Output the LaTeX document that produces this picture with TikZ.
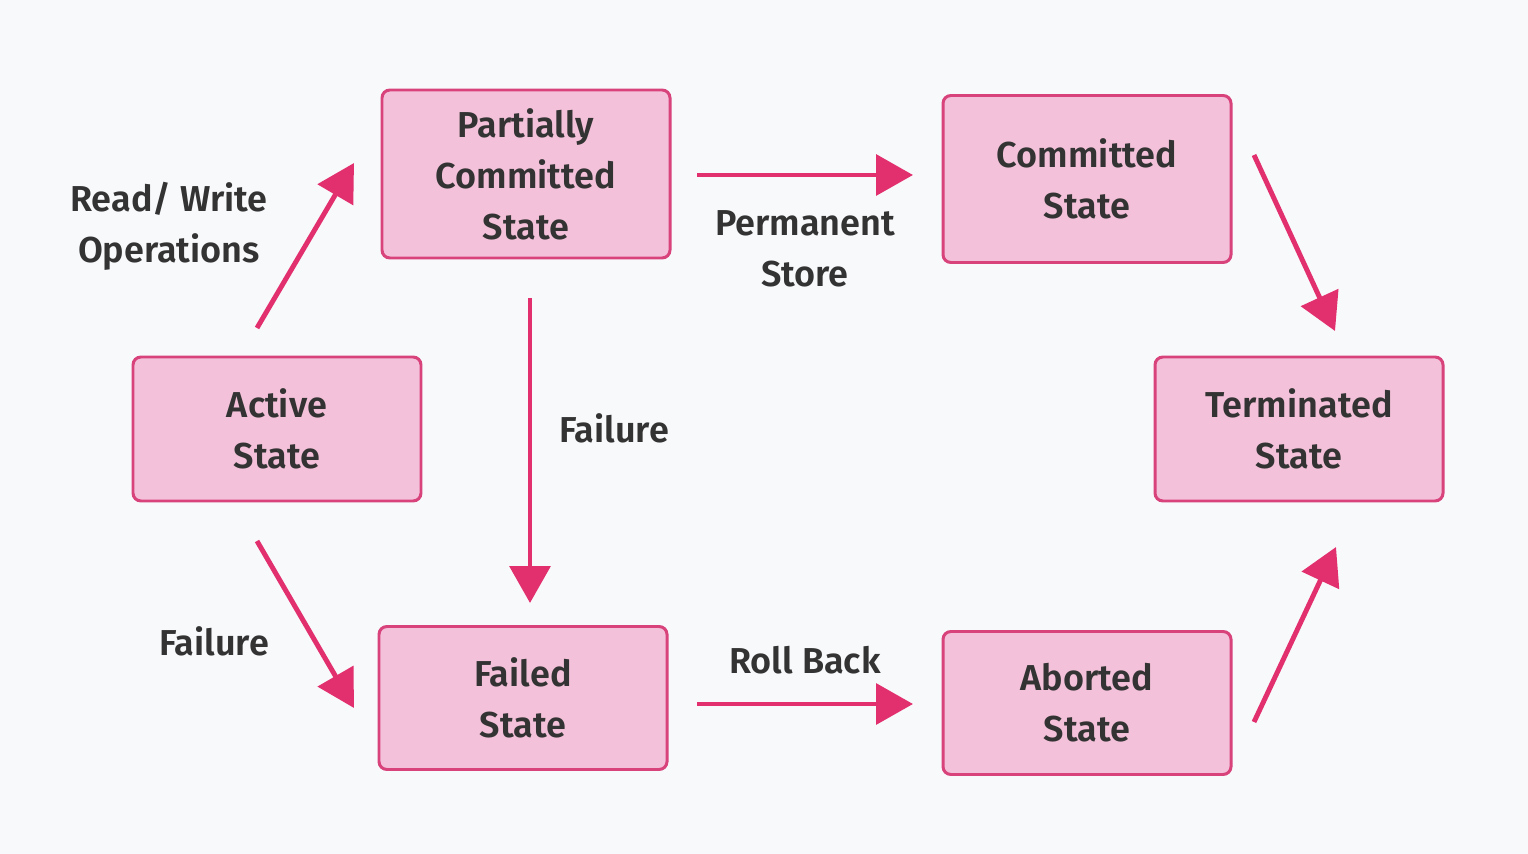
\documentclass[tikz,border=0pt]{standalone}
\usepackage{fontspec}
\setmainfont{Fira Sans SemiBold}
\usetikzlibrary{arrows.meta}
\definecolor{bg}{HTML}{F8F9FB}
\definecolor{boxfill}{HTML}{F3C1D9}
\definecolor{boxdraw}{HTML}{D8437C}
\definecolor{arr}{HTML}{E2306F}
\definecolor{txt}{HTML}{333333}
\begin{document}
\begin{tikzpicture}[x=0.02cm,y=-0.02cm,
  statebox/.style={draw=boxdraw, fill=boxfill, line width=1.7pt, rounded corners=4.5pt,
    minimum width=288*0.02cm, align=center, text=txt, font=\fontsize{20.5}{29}\selectfont,
    execute at begin node={\rule{0pt}{25pt}}},
  lbl/.style={align=center, text=txt, font=\fontsize{20.5}{29}\selectfont},
  conn/.style={draw=arr, line width=2.8pt, -{Triangle[length=21pt,width=23pt]}}]
\fill[bg] (0,0) rectangle (1528,854);
\useasboundingbox (0,0) rectangle (1528,854);
\node[statebox, minimum height=168*0.02cm] (pc) at (526,174) {Partially\\Committed\\State};
\node[statebox, minimum height=167*0.02cm] (cs) at (1087,179) {Committed\\State};
\node[statebox, minimum height=144*0.02cm] (as) at (277,429) {Active\\State};
\node[statebox, minimum height=144*0.02cm] (ts) at (1299,429) {Terminated\\State};
\node[statebox, minimum height=143*0.02cm] (fs) at (523,698) {Failed\\State};
\node[statebox, minimum height=143*0.02cm] (ab) at (1087,703) {Aborted\\State};
\coordinate (a1) at (257,328); \coordinate (a2) at (354,163);
\coordinate (b1) at (697,175); \coordinate (b2) at (913,175);
\coordinate (c1) at (1254,155); \coordinate (c2) at (1335,331);
\coordinate (d1) at (530,298); \coordinate (d2) at (530,603);
\coordinate (e1) at (257,541); \coordinate (e2) at (354,708);
\coordinate (f1) at (697,704); \coordinate (f2) at (913,704);
\coordinate (g1) at (1254,722); \coordinate (g2) at (1336,547);
\draw[conn] (a1) -- (a2);
\draw[conn] (b1) -- (b2);
\draw[conn] (c1) -- (c2);
\draw[conn] (d1) -- (d2);
\draw[conn] (e1) -- (e2);
\draw[conn] (f1) -- (f2);
\draw[conn] (g1) -- (g2);
\node[lbl] (l1) at (169,226) {Read/ Write\\Operations};
\node[lbl] (l2) at (805,249) {Permanent\\Store};
\node[lbl] (l3) at (614,428) {Failure};
\node[lbl] (l4) at (214,641) {Failure};
\node[lbl] (l5) at (805,660) {Roll Back};
\end{tikzpicture}
\end{document}
